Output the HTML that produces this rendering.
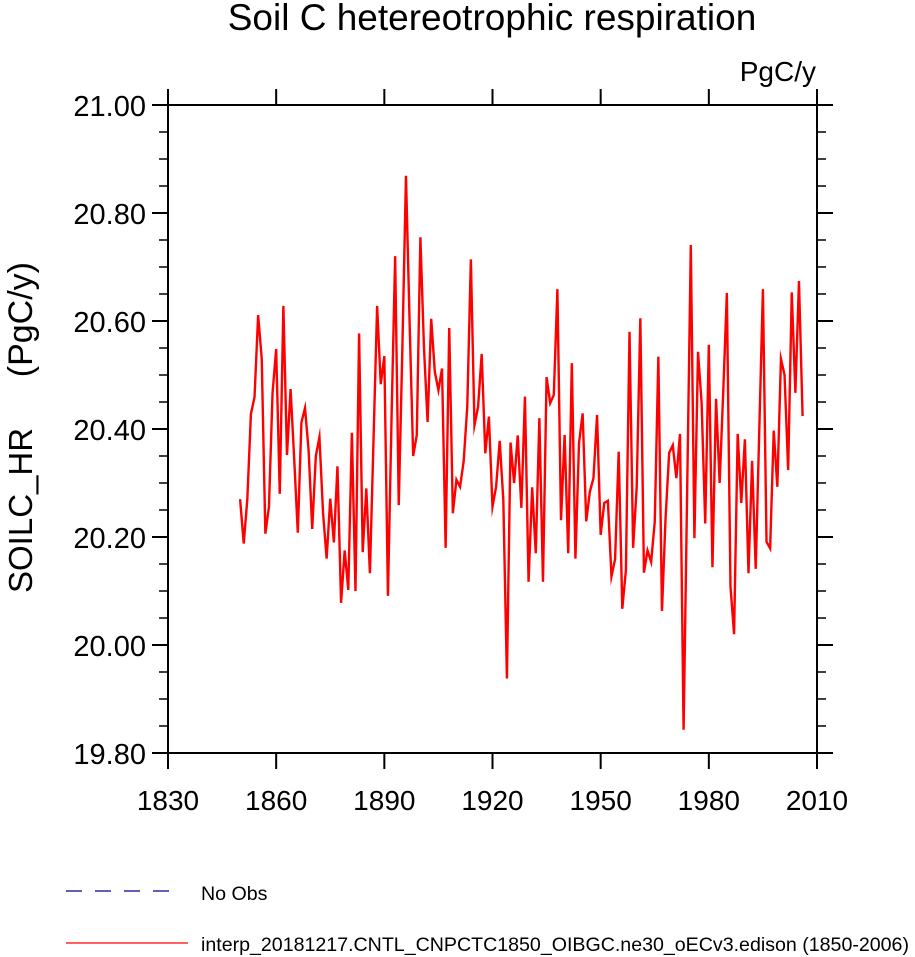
<!DOCTYPE html>
<html><head><meta charset="utf-8"><style>
html,body{margin:0;padding:0;background:#fff;}
svg{display:block;font-family:"Liberation Sans",sans-serif;}
</style></head><body>
<svg id="chart" width="915" height="957">
<text x="492" y="30" text-anchor="middle" font-size="37">Soil C hetereotrophic respiration</text>
<text x="816" y="81" text-anchor="end" font-size="28">PgC/y</text>
<g transform="translate(32,0) rotate(-90)">
<text x="-593" y="0" text-anchor="start" font-size="33">SOILC_HR</text>
<text x="-262" y="0" text-anchor="end" font-size="34">(PgC/y)</text>
</g>
<g id="axes"></g>
<g id="series"></g>
<g>
<line x1="66" y1="891" x2="182" y2="891" stroke="#00008b" stroke-width="1.3" stroke-dasharray="16,13"/>
<text x="201" y="900" font-size="19.6">No Obs</text>
<line x1="66" y1="943" x2="188" y2="943" stroke="#ff0000" stroke-width="1.3"/>
<text x="201" y="951" font-size="19.6">interp_20181217.CNTL_CNPCTC1850_OIBGC.ne30_oECv3.edison (1850-2006)</text>
</g>
</svg>
<script>
const startYear = 1850;
const values = [20.270,20.188,20.270,20.428,20.459,20.611,20.530,20.206,20.256,20.467,
20.548,20.280,20.628,20.352,20.474,20.345,20.208,20.412,20.439,20.360,
20.215,20.350,20.385,20.245,20.160,20.271,20.190,20.331,20.078,20.175,
20.102,20.393,20.100,20.577,20.172,20.290,20.133,20.380,20.628,20.483,
20.535,20.091,20.420,20.720,20.259,20.550,20.869,20.600,20.350,20.389,
20.755,20.550,20.413,20.604,20.506,20.472,20.512,20.180,20.587,20.244,
20.306,20.293,20.340,20.441,20.714,20.407,20.441,20.539,20.355,20.423,
20.256,20.293,20.378,20.269,19.938,20.375,20.300,20.388,20.254,20.460,
20.117,20.292,20.170,20.420,20.117,20.496,20.448,20.463,20.659,20.231,
20.389,20.170,20.522,20.160,20.374,20.429,20.229,20.284,20.309,20.426,
20.204,20.263,20.267,20.127,20.159,20.358,20.067,20.139,20.580,20.180,
20.293,20.605,20.134,20.175,20.154,20.228,20.534,20.063,20.235,20.356,
20.370,20.309,20.391,19.843,20.290,20.741,20.198,20.543,20.448,20.225,
20.556,20.144,20.456,20.300,20.470,20.652,20.109,20.020,20.391,20.263,
20.381,20.133,20.341,20.141,20.400,20.659,20.191,20.179,20.397,20.293,
20.530,20.500,20.324,20.653,20.467,20.674,20.424];
const xTicks = [1830,1860,1890,1920,1950,1980,2010];
const yTicks = [19.8,20.0,20.2,20.4,20.6,20.8,21.0];
const yMinor = [19.85,19.9,19.95,20.05,20.1,20.15,20.25,20.3,20.35,20.45,20.5,20.55,20.65,20.7,20.75,20.85,20.9,20.95];

const L=168,R=817,T=105,B=753;
const xMin=1830,xMax=2010,yMin=19.8,yMax=21.0;
const xs=v=>L+(v-xMin)/(xMax-xMin)*(R-L);
const ys=v=>B-(v-yMin)/(yMax-yMin)*(B-T);
const NS='http://www.w3.org/2000/svg';
const axes=document.getElementById('axes');
function mk(tag,attrs,parent){const e=document.createElementNS(NS,tag);for(const k in attrs)e.setAttribute(k,attrs[k]);parent.appendChild(e);return e;}

const frame=mk('rect',{x:L,y:T,width:R-L,height:B-T,fill:'none',stroke:'#000','stroke-width':2},axes);



xTicks.forEach(t=>{
  const x=xs(t);
  const a=mk('line',{x1:x,y1:B,x2:x,y2:B+16,stroke:'#000','stroke-width':2},axes);
  
  
  const b=mk('line',{x1:x,y1:T,x2:x,y2:T-16,stroke:'#000','stroke-width':2},axes);
  
  
  const tx=mk('text',{x:x,y:B+57,'text-anchor':'middle','font-size':28},axes);
  tx.textContent=t;
  
  
});
yTicks.forEach(t=>{
  const y=ys(t);
  const a=mk('line',{x1:L-16,y1:y,x2:L,y2:y,stroke:'#000','stroke-width':2},axes);
  
  
  const b=mk('line',{x1:R,y1:y,x2:R+16,y2:y,stroke:'#000','stroke-width':2},axes);
  
  
  const tx=mk('text',{x:L-22,y:y+11,'text-anchor':'end','font-size':29},axes);
  tx.textContent=t.toFixed(2);
  
  
});
yMinor.forEach(t=>{
  const y=ys(t);
  const a=mk('line',{x1:L-9,y1:y,x2:L,y2:y,stroke:'#000','stroke-width':1.5},axes);
  
  
  const b=mk('line',{x1:R,y1:y,x2:R+9,y2:y,stroke:'#000','stroke-width':1.5},axes);
  
  
});

const pts=values.map((v,i)=>xs(startYear+i).toFixed(2)+','+ys(v).toFixed(2)).join(' ');
const line=mk('polyline',{points:pts,fill:'none',stroke:'#ff0000','stroke-width':2.4,'stroke-linejoin':'miter','stroke-miterlimit':10},document.getElementById('series'));


</script>
</body></html>
